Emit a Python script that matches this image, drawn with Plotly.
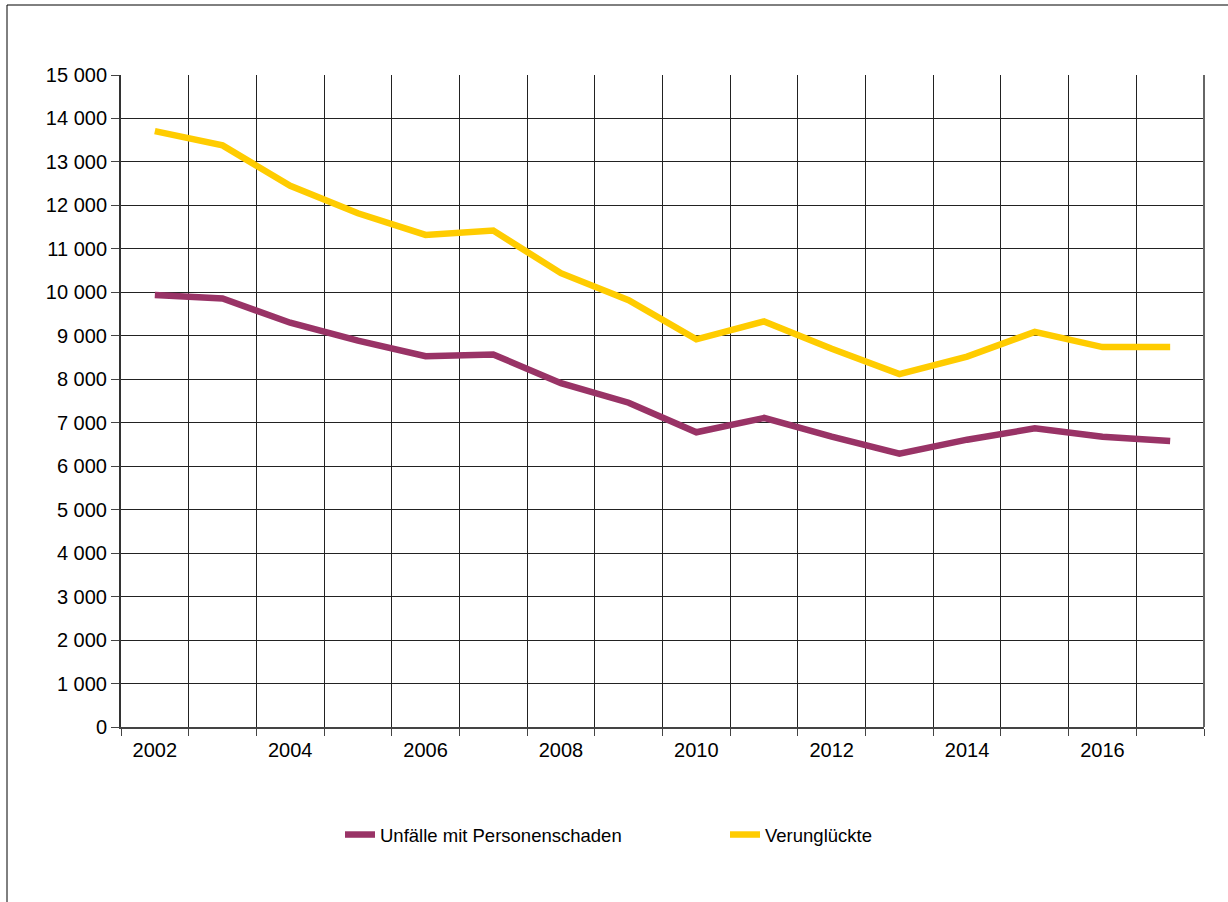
import plotly.graph_objects as go

years = [str(y) for y in range(2002, 2018)]
tick_text = [y if int(y) % 2 == 0 else "" for y in years]
unfaelle = [9940, 9860, 9300, 8890, 8530, 8570, 7910, 7460, 6780, 7110, 6680, 6290, 6610, 6870, 6680, 6580]
verunglueckte = [13710, 13380, 12450, 11820, 11320, 11420, 10440, 9820, 8920, 9330, 8700, 8120, 8520, 9090, 8740, 8740]

FONT = "Liberation Sans, Arial, sans-serif"

fig = go.Figure()
fig.add_trace(go.Scatter(x=years, y=unfaelle, mode="lines", name="Unfälle mit Personenschaden",
                         line=dict(color="#993366", width=6.5)))
fig.add_trace(go.Scatter(x=years, y=verunglueckte, mode="lines", name="Verunglückte",
                         line=dict(color="#FFCC00", width=6.5)))

# outer frame
fig.add_shape(type="rect", xref="paper", yref="paper",
              x0=(7 - 121) / 1083, x1=(1240 - 121) / 1083,
              y0=(727 - 920) / 652, y1=(727 - 5) / 652,
              line=dict(color="black", width=1), fillcolor="rgba(0,0,0,0)", layer="below")

fig.update_layout(
    width=1228, height=902,
    margin=dict(l=121, r=24, t=75, b=175),
    paper_bgcolor="white", plot_bgcolor="white",
    separators=". ",
    font=dict(family=FONT, size=20, color="black"),
    showlegend=True,
    legend=dict(orientation="h", x=(340 - 121) / 1083, xanchor="left",
                y=(727 - 835) / 652, yanchor="middle",
                font=dict(family=FONT, size=18.5, color="black"),
                entrywidth=340, bgcolor="rgba(0,0,0,0)"),
    xaxis=dict(type="category", tickmode="array", tickvals=years, ticktext=tick_text,
               tickson="boundaries", range=[-0.5, 15.5],
               showgrid=True, gridcolor="#222", gridwidth=1,
               showline=True, linecolor="#444", linewidth=2, mirror=False,
               ticks="outside", ticklen=7, tickcolor="#444", tickwidth=1,
               ticklabelstandoff=4,
               tickfont=dict(family=FONT, size=20, color="black")),
    yaxis=dict(range=[0, 15000], tickmode="linear", tick0=0, dtick=1000, tickformat=",d",
               showgrid=True, gridcolor="#222", gridwidth=1, zeroline=False,
               showline=True, linecolor="#333", linewidth=2,
               ticks="outside", ticklen=8, tickcolor="#444", tickwidth=1,
               tickfont=dict(family=FONT, size=20, color="black")),
)
fig.add_shape(type="line", xref="paper", yref="paper", x0=1, x1=1, y0=0, y1=1,
              line=dict(color="#666", width=2))

fig.write_html("out.html", config={"displayModeBar": False},
               post_script="document.body.style.margin='0px';document.body.style.overflow='hidden';")
